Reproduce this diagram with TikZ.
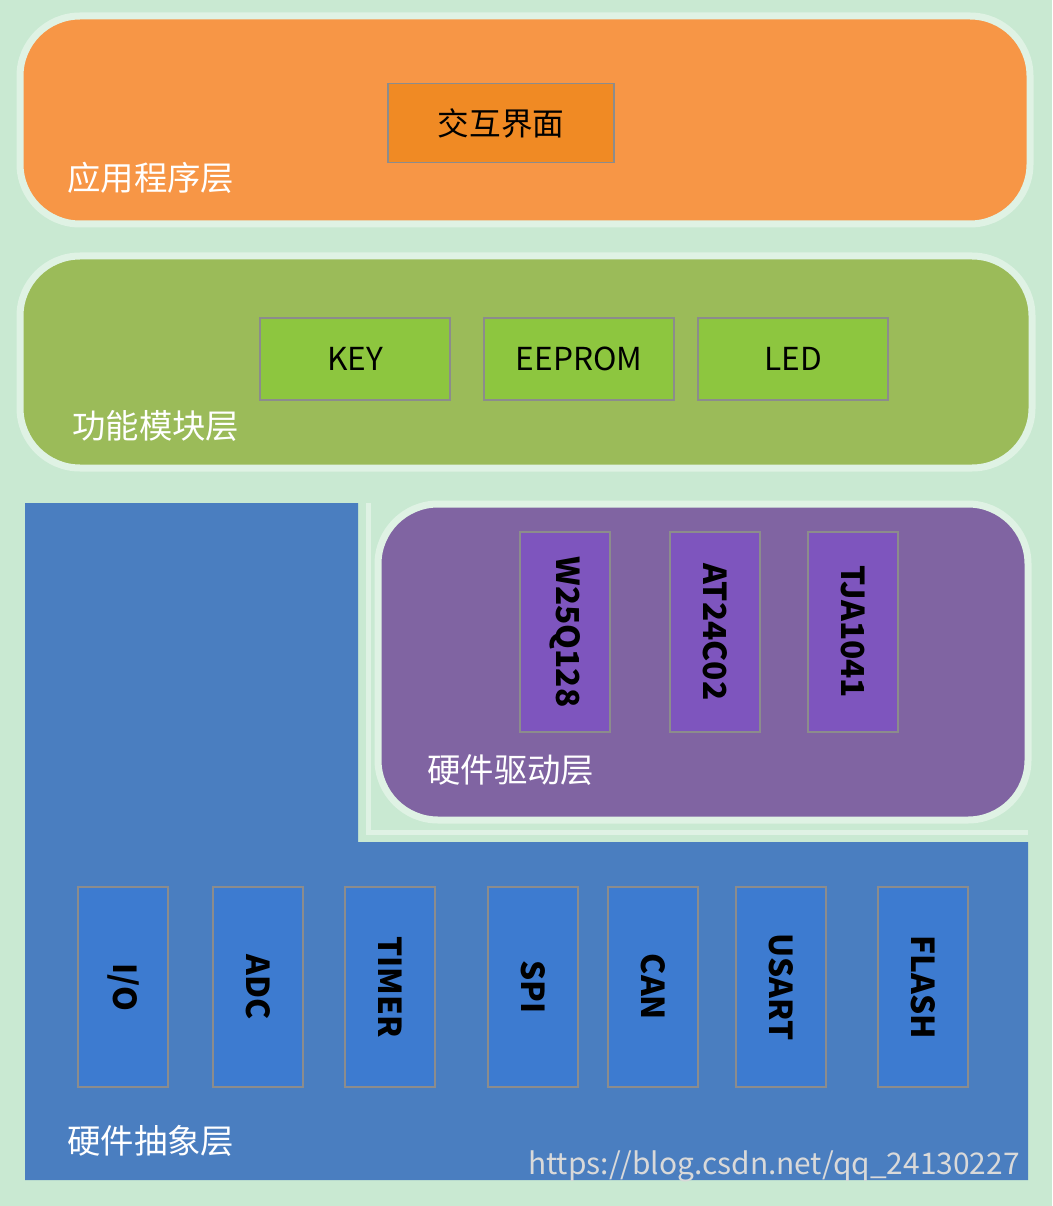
\documentclass[tikz,border=0pt]{standalone}
\usepackage{fontspec}
\setmainfont{Noto Sans CJK SC}
\usetikzlibrary{positioning}
\definecolor{mintbg}{HTML}{C9E9D2}
\definecolor{apporange}{HTML}{F79646}
\definecolor{boxorange}{HTML}{F08A24}
\definecolor{funcgreen}{HTML}{9BBB59}
\definecolor{boxgreen}{HTML}{8DC63F}
\definecolor{halblue}{HTML}{4A7EC0}
\definecolor{boxblue}{HTML}{3D7BD0}
\definecolor{drvpurple}{HTML}{8064A2}
\definecolor{boxpurple}{HTML}{7E55BE}
\tikzset{
  layer/.style={rounded corners=6mm, draw=white!40!mintbg, line width=0.7mm},
  modbox/.style={draw=black!45, line width=0.4pt, inner sep=0pt, font=\fontsize{9}{11}\selectfont},
  tallbox/.style={modbox, minimum width=9mm, minimum height=20mm},
  widebox/.style={modbox, minimum width=19mm, minimum height=8.2mm},
  vtext/.style={rotate=-90, font=\fontsize{9}{11}\selectfont\bfseries},
  layertext/.style={anchor=west, text=white, font=\fontsize{9.5}{11}\selectfont}
}
\begin{document}
\begin{tikzpicture}[x=0.1mm,y=-0.1mm]
\fill[mintbg] (0,0) rectangle (1052,1206);
\useasboundingbox (0,0) rectangle (1052,1206);

% application layer
\draw[layer, fill=apporange] (20,16) rectangle (1030,224);
\node[widebox, fill=boxorange, minimum width=22.6mm, minimum height=7.9mm] (ui) at (501,123) {交互界面};
\node[layertext] (applabel) at (55,178) {应用程序层};

% function layer
\draw[layer, fill=funcgreen] (20,256) rectangle (1032,468);
\node[widebox, fill=boxgreen] (key) at (355,359) {KEY};
\node[widebox, fill=boxgreen] (eeprom) at (579,359) {EEPROM};
\node[widebox, fill=boxgreen] (led) at (793,359) {LED};
\node[layertext] (funclabel) at (60,426) {功能模块层};

% hardware abstraction layer (L shape)
\fill[halblue] (25,503) -- (358,503) -- (358,842) -- (1028,842) -- (1028,1180) -- (25,1180) -- cycle;
\draw[white!40!mintbg, line width=0.5mm] (368,503) -- (368,832) -- (1028,832);
\foreach \name/\txt/\xc in {io/{I/O}/123, adc/ADC/258, timer/TIMER/390, spi/SPI/533, can/CAN/653, usart/USART/781, flash/FLASH/923}{
  \node[tallbox, fill=boxblue] (\name) at (\xc,987) {};
  \node[vtext] at (\name) {\txt};
}
\node[layertext] (hallabel) at (55,1141) {硬件抽象层};

% driver layer
\draw[layer, fill=drvpurple] (378,504) rectangle (1028,820);
\foreach \name/\txt/\xc in {flashchip/W25Q128/565, eepromchip/AT24C02/715, canchip/TJA1041/853}{
  \node[tallbox, fill=boxpurple] (\name) at (\xc,632) {};
  \node[vtext] at (\name) {\txt};
}
\node[layertext] (drvlabel) at (415,770) {硬件驱动层};

% watermark
\node[anchor=east, text=white!70!gray, font=\fontsize{8.5}{10}\selectfont] (mark) at (1032,1166) {https://blog.csdn.net/qq\_24130227};
\end{tikzpicture}
\end{document}
